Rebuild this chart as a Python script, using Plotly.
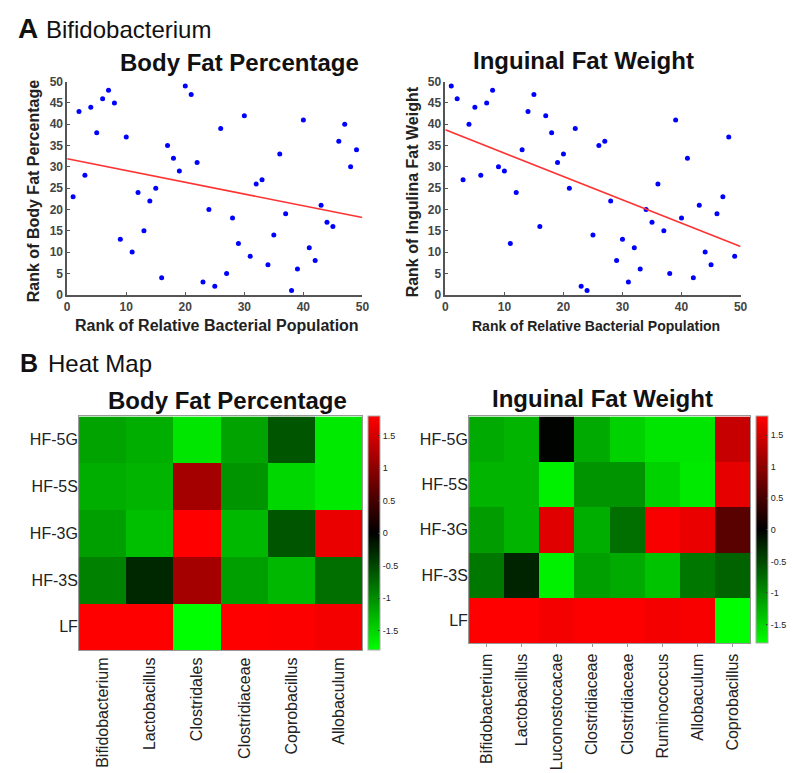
import numpy as np
import plotly.graph_objects as go

W, H = 793, 773

# ---------------- data ----------------
rank_x = list(range(1, 50))
bodyfat_rank = [23, 43, 28, 44, 38, 46, 48, 45, 13, 37, 10, 24, 15, 22, 25, 4, 35, 32, 29, 49,
                47, 31, 3, 20, 2, 39, 5, 18, 12, 42, 9, 26, 27, 7, 14, 33, 19, 1, 6, 41,
                11, 8, 21, 17, 16, 36, 40, 30, 34]
inguinal_rank = [49, 46, 27, 40, 44, 28, 45, 48, 30, 29, 12, 24, 34, 43, 47, 16, 42, 38, 31, 33,
                 25, 39, 2, 1, 14, 35, 36, 22, 8, 13, 3, 11, 6, 20, 17, 26, 15, 5, 41, 18,
                 32, 4, 21, 10, 7, 19, 23, 37, 9]

groups = ["HF-5G", "HF-5S", "HF-3G", "HF-3S", "LF"]
left_taxa = ["Bifidobacterium", "Lactobacillus", "Clostridales", "Clostridiaceae",
             "Coprobacillus", "Allobaculum"]
right_taxa = ["Bifidobacterium", "Lactobacillus", "Luconostocacae", "Clostridiaceae",
              "Clostridiaceae", "Ruminococcus", "Allobaculum", "Coprobacillus"]
left_z = [
    [-1.15, -1.23, -1.62, -1.15, -0.60, -1.65],
    [-1.23, -1.27, 1.16, -1.05, -1.52, -1.65],
    [-1.12, -1.34, 1.80, -1.30, -0.60, 1.66],
    [-0.92, -0.28, 1.16, -1.12, -1.30, -0.78],
    [1.80, 1.80, -1.80, 1.80, 1.78, 1.72],
]
right_z = [
    [-1.20, -1.27, -0.02, -1.20, -1.48, -1.62, -1.62, 1.40],
    [-1.27, -1.27, -1.70, -1.05, -1.05, -1.48, -1.65, 1.62],
    [-1.10, -1.27, 1.58, -1.23, -0.78, 1.76, 1.66, 0.63],
    [-0.85, -0.25, -1.70, -1.12, -1.20, -1.38, -0.85, -0.70],
    [1.80, 1.80, 1.73, 1.78, 1.78, 1.73, 1.75, -1.80],
]
cb_vals = [1.5, 1, 0.5, 0, -0.5, -1, -1.5]
cb_text = ["1.5", "1", "0.5", "0", "-0.5", "-1", "-1.5"]
axis_ticks = [0, 10, 20, 30, 40, 50]
axis_ticks_y = [0, 5, 10, 15, 20, 25, 30, 35, 40, 45, 50]

# ---------------- helpers ----------------
def px(x):
    return x / W

def py(y):
    return 1 - y / H

FONT = "Arial, Liberation Sans, sans-serif"
colorscale = [[0, "rgb(0,255,0)"], [0.5, "rgb(0,0,0)"], [1, "rgb(255,0,0)"]]

fig = go.Figure()

# scatter plots
for i, yr in enumerate([bodyfat_rank, inguinal_rank]):
    xa = "x" if i == 0 else "x2"
    ya = "y" if i == 0 else "y2"
    fig.add_trace(go.Scatter(x=rank_x, y=yr, mode="markers",
                             marker=dict(color="rgb(0,0,255)", size=5),
                             xaxis=xa, yaxis=ya, showlegend=False))
    slope, icpt = np.polyfit(rank_x, yr, 1)
    fx = np.array([axis_ticks[0], axis_ticks[-1]], dtype=float)
    fig.add_trace(go.Scatter(x=fx, y=slope * fx + icpt, mode="lines",
                             line=dict(color="rgb(255,50,50)", width=1.6),
                             xaxis=xa, yaxis=ya, showlegend=False))

# heatmaps
def cbar(x0, top, bottom):
    return dict(x=px(x0), xref="paper", xanchor="left", xpad=0, ypad=0,
                thickness=12, thicknessmode="pixels",
                len=(bottom - top) / H, lenmode="fraction",
                y=py((top + bottom) / 2), yanchor="middle",
                outlinewidth=1, outlinecolor="#aaa",
                tickvals=cb_vals, ticktext=cb_text,
                ticks="inside", ticklen=2, tickcolor="#333",
                tickfont=dict(size=9, color="#222", family=FONT))

fig.add_trace(go.Heatmap(z=left_z, x=list(range(len(left_taxa))), y=list(range(len(groups))),
                         colorscale=colorscale, zmin=-1.8, zmax=1.8,
                         xaxis="x3", yaxis="y3", colorbar=cbar(370, 417, 655)))
fig.add_trace(go.Heatmap(z=right_z, x=list(range(len(right_taxa))), y=list(range(len(groups))),
                         colorscale=colorscale, zmin=-1.8, zmax=1.8,
                         xaxis="x4", yaxis="y4", colorbar=cbar(763, 417, 648)))

sc_axis = dict(range=[0, 50], showgrid=False, zeroline=False, showline=True,
               linecolor="#555", linewidth=1.5, ticks="inside", ticklen=3, tickcolor="#555",
               tickfont=dict(size=12, color="#444", family=FONT, weight="bold"),
               fixedrange=True)

hm_x = dict(showgrid=False, zeroline=False, showline=True, mirror=True, linecolor="#999",
            linewidth=1, tickangle=-90, tickfont=dict(size=16, color="#222", family=FONT))
hm_y = dict(showgrid=False, zeroline=False, showline=True, mirror=True, linecolor="#999",
            linewidth=1, tickfont=dict(size=16, color="#222", family=FONT),
            tickvals=list(range(len(groups))), ticktext=groups, autorange="reversed",
            ticks="", ticklabelstandoff=-3)

fig.update_layout(
    width=W, height=H, margin=dict(l=0, r=0, t=0, b=0),
    paper_bgcolor="white", plot_bgcolor="white",
    font=dict(family=FONT),
    xaxis=dict(**sc_axis, domain=[px(65), px(364)], anchor="y", tickvals=axis_ticks),
    yaxis=dict(**sc_axis, domain=[py(293), py(76)], anchor="x", tickvals=axis_ticks_y),
    xaxis2=dict(**sc_axis, domain=[px(448), px(747)], anchor="y2", tickvals=axis_ticks),
    yaxis2=dict(**sc_axis, domain=[py(293), py(76)], anchor="x2", tickvals=axis_ticks_y),
    xaxis3=dict(**hm_x, domain=[px(77), px(364)], anchor="y3",
                tickvals=list(range(len(left_taxa))), ticktext=left_taxa, ticks=""),
    yaxis3=dict(**hm_y, domain=[py(655), py(417)], anchor="x3"),
    xaxis4=dict(**hm_x, domain=[px(472), px(757)], anchor="y4",
                tickvals=list(range(len(right_taxa))), ticktext=right_taxa,
                ticks="outside", ticklen=3, tickcolor="#999"),
    yaxis4=dict(**hm_y, domain=[py(648), py(417)], anchor="x4"),
)

def ann(text, x, y, size, bold=False, xanchor="center", angle=0, color="#111"):
    fig.add_annotation(text=f"<b>{text}</b>" if bold else text, x=px(x), y=py(y),
                       xref="paper", yref="paper", xanchor=xanchor, yanchor="middle",
                       showarrow=False, textangle=angle,
                       font=dict(size=size, color=color, family=FONT))

ann("A", 13, 22, 28, bold=True, xanchor="left")
ann("Bifidobacterium", 42, 23, 24, xanchor="left")
ann("B", 15, 363, 25, bold=True, xanchor="left")
ann("Heat Map", 44, 363, 24, xanchor="left")

ann("Body Fat Percentage", 240, 57, 24, bold=True)
ann("Inguinal Fat Weight", 588, 54, 24, bold=True)
ann("Body Fat Percentage", 227, 401, 24, bold=True)
ann("Inguinal Fat Weight", 607, 399, 24, bold=True)

ann("Rank of Relative Bacterial Population", 217, 324, 16, bold=True, color="#222")
ann("Rank of Relative Bacterial Population", 601, 325, 14, bold=True, color="#222")
ann("Rank of Body Fat Percentage", 31, 188, 16, bold=True, angle=-90, color="#222")
ann("Rank of Ingulina Fat Weight", 415, 188, 16, bold=True, angle=-90, color="#222")

fig.write_html("out.html")
